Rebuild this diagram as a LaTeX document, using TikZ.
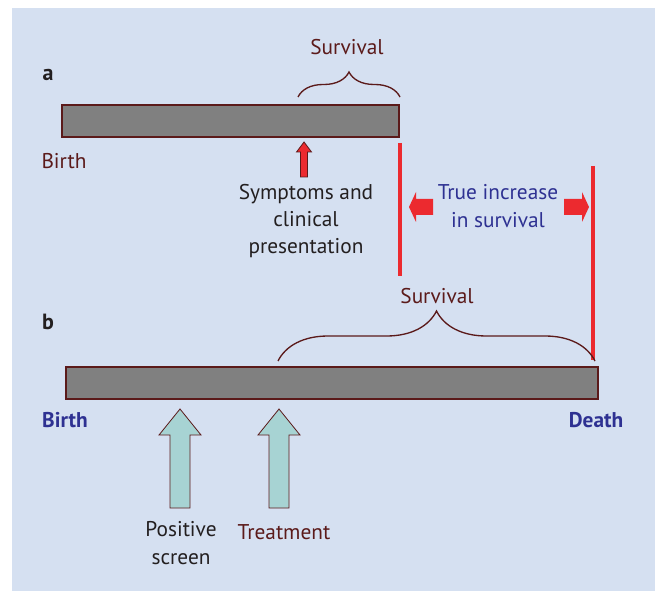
\documentclass[tikz,border=0pt]{standalone}
\usepackage{fontspec}
\setmainfont{PT Sans}
\usetikzlibrary{decorations.pathreplacing}

\definecolor{bgblue}{HTML}{D5E0F1}
\definecolor{maroon}{HTML}{5B1A1A}
\definecolor{inkgray}{HTML}{231F20}
\definecolor{darkblue}{HTML}{2E3192}
\definecolor{survred}{HTML}{EC2A2F}
\definecolor{teal}{HTML}{A7D3D3}

\tikzset{
	bar/.style={draw=maroon, fill=gray!100!white, line width=.8pt, inner sep=0pt},
	lbl/.style={font=\fontsize{16}{20.5}\selectfont, inner sep=0pt, align=center},
	brc/.style={draw=maroon, line width=1pt, decorate},
	blockarr/.style={draw=maroon, line width=.6pt, line join=miter},
	redline/.style={draw=survred, line width=3.2pt}
}

% up-pointing block arrow: x, tip y, head base y, half head, half shaft, bottom y
\newcommand{\uparr}[6]{(#1,#2) -- (#1+#4,#3) -- (#1+#5,#3) -- (#1+#5,#6) -- (#1-#5,#6) -- (#1-#5,#3) -- (#1-#4,#3) -- cycle}

\begin{document}
\begin{tikzpicture}[x=0.75pt, y=-0.75pt]
	\useasboundingbox (0,0) rectangle (655,591);
	\fill[bgblue] (12,8) rectangle (655,591);	%background

	% panel a
	\node[lbl, font=\fontsize{16.5}{20}\selectfont\bfseries, text=inkgray] (panA) at (48,75) {a};
	\node[bar, minimum width=0.75*337pt, minimum height=0.75*32pt] (barA) at (230.5,121) {};
	\node[lbl, text=maroon] (birthA) at (64,161) {Birth};
	\draw[brc, decoration={brace, amplitude=0.75*25pt}] (298,97) -- (400,97);
	\node[lbl, text=maroon] (survA) at (347,47) {Survival};
	\filldraw[blockarr, fill=survred] \uparr{304}{142}{152}{7.5}{3.5}{177};
	\node[lbl, text=inkgray] (sympt) at (306,221) {Symptoms and\\clinical\\presentation};

	% true increase
	\draw[redline] (400,143) -- (400,276);
	\draw[redline] (593,166) -- (593,360);
	\node[lbl, text=darkblue] (incr) at (498,206) {True increase\\in survival};
	\fill[survred] (409,207) -- (416,192) -- (416,199) -- (433,199) -- (433,215) -- (416,215) -- (416,222) -- cycle;	%left
	\fill[survred] (589,207) -- (582,192) -- (582,199) -- (564,199) -- (564,215) -- (582,215) -- (582,222) -- cycle;	%right

	% panel b
	\node[lbl, font=\fontsize{16.5}{20}\selectfont\bfseries, text=inkgray] (panB) at (48,322) {b};
	\draw[brc, decoration={brace, amplitude=0.75*50pt}] (278,361) -- (595,361);
	\node[lbl, text=maroon] (survB) at (437,296) {Survival};
	\node[bar, minimum width=0.75*532pt, minimum height=0.75*32pt] (barB) at (332,383) {};
	\node[lbl, font=\fontsize{16}{20}\selectfont\bfseries, text=darkblue] (birthB) at (65,420) {Birth};
	\node[lbl, font=\fontsize{16}{20}\selectfont\bfseries, text=darkblue] (death) at (596,420) {Death};
	\filldraw[blockarr, fill=teal] \uparr{180}{409}{435}{21}{10}{508};	%screen
	\filldraw[blockarr, fill=teal] \uparr{279}{409}{435}{21}{10}{508};	%treatment
	\node[lbl, text=inkgray] (screen) at (181,543) {Positive\\screen};
	\node[lbl, text=maroon] (treat) at (284,532) {Treatment};
\end{tikzpicture}
\end{document}
